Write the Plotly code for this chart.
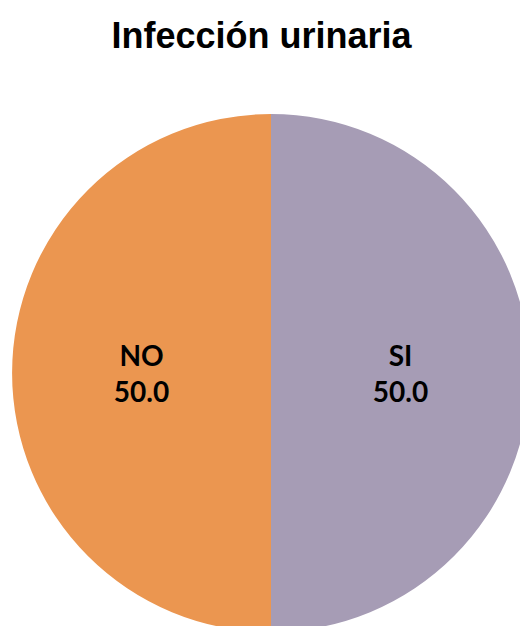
import plotly.graph_objects as go

labels = ["NO", "SI"]
values = [50.0, 50.0]
colors = ["#EB9650", "#A69CB5"]
title_text = "Infección urinaria"

W, H = 560, 680
cx, cy, r = 271, 373, 259

fig = go.Figure(go.Pie(
    labels=labels,
    values=values,
    sort=False,
    direction="counterclockwise",
    rotation=180,
    marker=dict(colors=colors, line=dict(width=0)),
    texttemplate="%{label}<br>%{value:.1f}",
    textposition="inside",
    insidetextorientation="horizontal",
    textfont=dict(family="Lato", size=28, weight=700, color="black"),
    hoverinfo="label+value",
    showlegend=False,
    domain=dict(x=[(cx - r) / W, (cx + r) / W],
                y=[(H - cy - r) / H, (H - cy + r) / H]),
))

fig.update_layout(
    width=W, height=H, autosize=False,
    margin=dict(l=0, r=0, t=0, b=0),
    paper_bgcolor="white",
    title=dict(text=title_text, x=261.5 / W, xref="paper", xanchor="center",
               y=1 - 35 / H, yref="container", yanchor="middle",
               font=dict(family="Liberation Sans", size=36, weight=700, color="black")),
)

fig.write_html("out.html",
               post_script="document.body.style.margin='0';document.body.style.overflow='hidden';document.documentElement.style.overflow='hidden';")
